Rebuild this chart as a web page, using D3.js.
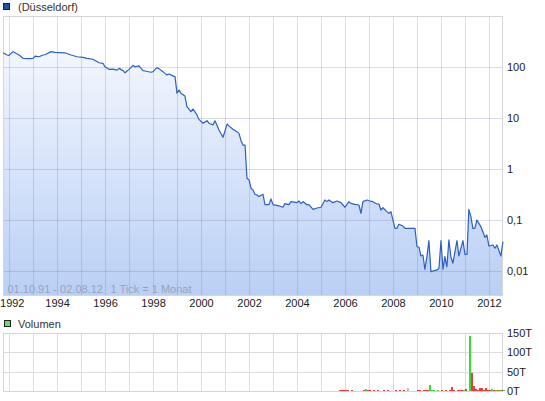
<!DOCTYPE html>
<html><head><meta charset="utf-8">
<script src="https://cdn.jsdelivr.net/npm/d3@7"></script>
<style>
body{margin:0;background:#fff}
svg{display:block;font-family:"Liberation Sans",Arial,sans-serif}
</style>
</head><body>
<svg id="c" width="545" height="401"></svg>
<script>
// ---------- DATA ----------
const seriesName = "(Düsseldorf)";
const volumeName = "Volumen";
const rangeText = "01.10.91 - 02.08.12";
const tickText = "1 Tick = 1 Monat";

const priceDates = ["1991-10","1991-12","1992-01","1992-03","1992-04","1992-06","1992-08","1992-11",
"1993-01","1993-02","1993-04","1993-06","1993-07","1993-10","1993-12","1994-05","1994-08","1994-11",
"1995-02","1995-04","1995-07","1995-10","1995-12","1996-01","1996-03","1996-05","1996-07","1996-08",
"1996-10","1996-11","1997-01","1997-03","1997-04","1997-06","1997-08","1997-09","1997-12","1998-01",
"1998-03","1998-04","1998-06","1998-07","1998-08","1998-09","1998-11","1998-12","1999-01","1999-02",
"1999-03","1999-05","1999-06","1999-08","1999-09","1999-11","1999-12","2000-02","2000-04","2000-05",
"2000-07","2000-08","2000-10","2000-12","2001-02","2001-03","2001-05","2001-07","2001-08","2001-09",
"2001-10","2001-11","2001-12","2002-01","2002-02","2002-03","2002-04","2002-05","2002-06","2002-08",
"2002-09","2002-11","2002-12","2003-01","2003-04","2003-06","2003-07","2003-09","2003-10","2004-01",
"2004-02","2004-03","2004-04","2004-06","2004-07","2004-09","2004-11","2005-01","2005-03","2005-04",
"2005-05","2005-07","2005-09","2005-11","2006-01","2006-03","2006-04","2006-06","2006-08","2006-09",
"2006-10","2006-12","2007-01","2007-03","2007-05","2007-06","2007-07","2007-08","2007-10","2007-11",
"2007-12","2008-02","2008-03","2008-04","2008-06","2008-07","2008-12","2009-01","2009-02","2009-03",
"2009-04","2009-05","2009-06","2009-07","2009-08","2009-11","2009-12","2010-01","2010-02","2010-03",
"2010-04","2010-05","2010-06","2010-07","2010-09","2010-10","2010-12","2011-01","2011-02","2011-03",
"2011-04","2011-05","2011-06","2011-07","2011-08","2011-09","2011-11","2011-12","2012-01","2012-03",
"2012-04","2012-05","2012-07","2012-08"];
const priceValues = [190,172,169,200,190,172,148,146,
148,164,159,172,174,200,194,190,172,159,
155,148,142,121,118,101,90,91,87,94,
85,77,90,108,101,105,85,83.5,79,81,
97,93,81,75,70,73,67,64.6,30.5,35.4,
30.5,27,16.7,13.3,15,11.5,9.4,7.9,8.85,7.9,
7.3,8.85,5.8,4.2,7.6,7.0,6.0,5.4,5.0,3.6,
2.95,2.95,0.66,0.61,0.42,0.39,0.32,0.31,0.29,0.32,
0.20,0.20,0.26,0.20,0.19,0.178,0.21,0.20,0.23,0.22,
0.236,0.21,0.23,0.20,0.20,0.162,0.172,0.178,0.247,0.229,
0.247,0.219,0.236,0.219,0.178,0.229,0.212,0.203,0.197,0.135,
0.229,0.247,0.239,0.229,0.206,0.206,0.157,0.174,0.146,0.135,
0.146,0.0687,0.0687,0.0824,0.0762,0.0687,0.0687,0.0299,0.0292,0.0197,
0.0206,0.0108,0.0191,0.0393,0.0097,0.0105,0.0113,0.0393,0.0108,0.0191,
0.0121,0.0406,0.0191,0.0142,0.0393,0.0197,0.0393,0.0212,0.0212,0.162,
0.116,0.0687,0.0687,0.100,0.0861,0.074,0.0458,0.0508,0.0309,0.0324,
0.0279,0.0324,0.0197,0.0376];

const yTickValues = [100,10,1,0.1,0.01];
const yTickLabels = ["100","10","1","0,1","0,01"];
const xTickYears = [1992,1994,1996,1998,2000,2002,2004,2006,2008,2010,2012];

// monthly volume (thousands), Oct 2005 .. Aug 2012
const volStart = "2005-10";
const volEnd = "2012-08";
const volValues = [1.5,1.5,1.5,2,1.5,1,3.5,1,0.5,1,1,0.5,1.5,5,1.5,1.5,1,1.5,1,1.5,0.5,1,1.5,1,1.5,1,0.5,
1,1.5,1,1.5,1,1.5,0.5,7,1,1,0.5,1,1.5,1.5,1,1.5,1.5,2,15,1.5,1.5,1,1.5,1,1.5,1,1.5,1,2,10,1.5,1,2,1.5,3,
1.5,4,1,142,47,13,4,3,7.5,7.5,3,7.5,2,2.5,5,2,1.5,1.5,2,1.5,2];
const volDirections = ["d","d","d","d","d","d","d","d","d","d","d","d","d","u","d","d","d","d","d","d","d","d","d","d","d","d","d",
"d","d","d","d","d","d","d","n","n","n","n","d","d","d","d","d","d","d","u","u","u","u","u","u","d","u","d","u","d","d","d","u","d","d","d",
"u","d","d","u","d","d","d","d","d","d","d","d","d","d","u","d","u","d","u","d","u"];
const volTickValues = [0,50,100,150];
const volTickLabels = ["0T","50T","100T","150T"];

// ---------- CHART ----------
const svg = d3.select("#c");
const parse = d3.timeParse("%Y-%m");
const price = priceDates.map((d,i)=>({date:parse(d), value:priceValues[i]}));
const volMonths = d3.timeMonth.range(parse(volStart), d3.timeMonth.offset(parse(volEnd),1));
const vol = volMonths.map((d,i)=>({date:d, value:volValues[i], dir:volDirections[i]}));

const L=3, R=503, T=16, B=296;
const VT=333, VB=391;
const x = d3.scaleTime().domain([new Date(1991,9,1), new Date(2012,7,2)]).range([L,R]);
const y = d3.scaleLog().domain([Math.pow(10,-2.49),1000]).range([B,T]);
const yv = d3.scaleLinear().domain([0,150]).range([VB,VT]);
const gridYears = d3.timeYear.range(new Date(1992,0,1), new Date(2012,1,1));
const FONT = "Liberation Sans, Arial, sans-serif";

const defs = svg.append("defs");
const grad = defs.append("linearGradient").attr("id","fillG")
  .attr("gradientUnits","userSpaceOnUse").attr("x1",0).attr("x2",0).attr("y1",T).attr("y2",B);
grad.append("stop").attr("offset",0).attr("stop-color","#fbfcff");
grad.append("stop").attr("offset",1).attr("stop-color","#b9cff5");

// area
svg.append("path").datum(price)
  .attr("fill","url(#fillG)")
  .attr("d", d3.area().x(d=>x(d.date)).y0(B).y1(d=>y(d.value)));

// grid main
const gridColor = "rgba(110,125,160,0.26)";
const gx = svg.append("g").attr("transform",`translate(0,${B})`)
  .call(d3.axisBottom(x).tickValues(gridYears).tickSize(-(B-T)).tickFormat(""));
gx.select(".domain").remove();
gx.selectAll("line").attr("stroke",gridColor).attr("shape-rendering","crispEdges");
const gy = svg.append("g").attr("transform",`translate(${L},0)`)
  .call(d3.axisRight(y).tickValues(yTickValues).tickSize(R-L).tickFormat(""));
gy.select(".domain").remove();
gy.selectAll("line").attr("stroke",gridColor).attr("shape-rendering","crispEdges");

svg.append("rect").attr("x",L+0.5).attr("y",T+0.5).attr("width",R-L-1).attr("height",B-T-1)
  .attr("fill","none").attr("stroke","#d6d6d6").attr("shape-rendering","crispEdges");

// line
svg.append("path").datum(price)
  .attr("fill","none").attr("stroke","#2b5fc6").attr("stroke-width",1.2)
  .attr("stroke-linejoin","round")
  .attr("d", d3.line().x(d=>x(d.date)).y(d=>y(d.value)));

// y axis labels
const ya = svg.append("g").attr("transform",`translate(${R},0)`)
  .call(d3.axisRight(y).tickValues(yTickValues).tickSize(0).tickPadding(4)
    .tickFormat((d,i)=>yTickLabels[i]));
ya.select(".domain").remove();
ya.selectAll("text").attr("font-size",11).attr("fill","#1a1a1a").attr("font-family",FONT);

// x axis labels
const xa = svg.append("g").attr("transform",`translate(0,${B})`)
  .call(d3.axisBottom(x).tickValues(xTickYears.map(yy=>new Date(yy,0,1))).tickSize(0).tickPadding(3)
    .tickFormat(d3.timeFormat("%Y")));
xa.select(".domain").remove();
xa.selectAll("text").attr("font-size",11).attr("fill","#1a1a1a").attr("font-family",FONT);
// keep the first label inside the page
xa.selectAll(".tick").each(function(){
  const t = d3.select(this).select("text");
  const tr = d3.select(this).attr("transform");
  const px = +tr.match(/translate\(([-\d.]+)/)[1];
  const w = t.node().getComputedTextLength();
  if (px - w/2 < 0) t.attr("text-anchor","start").attr("x", -px);
});

// info text
svg.append("text").attr("x",7.5).attr("y",293).attr("font-size",11).attr("fill","#97a3bb").text(rangeText);
svg.append("text").attr("x",110.5).attr("y",293).attr("font-size",11).attr("fill","#97a3bb").text(tickText);

// legend main
svg.append("rect").attr("x",3.5).attr("y",3.5).attr("width",6).attr("height",6)
  .attr("fill","#1f4fb0").attr("stroke","#222");
svg.append("text").attr("x",18).attr("y",10.5).attr("font-size",11).attr("fill","#333").text(seriesName);

// ---------- VOLUME ----------
svg.append("rect").attr("x",4.5).attr("y",320.5).attr("width",6).attr("height",6)
  .attr("fill","#66dd66").attr("stroke","#222");
svg.append("text").attr("x",18).attr("y",327.5).attr("font-size",11).attr("fill","#333").text(volumeName);

const vgx = svg.append("g").attr("transform",`translate(0,${VB})`)
  .call(d3.axisBottom(x).tickValues(gridYears).tickSize(-(VB-VT)).tickFormat(""));
vgx.select(".domain").remove();
vgx.selectAll("line").attr("stroke","#dcdcdc").attr("shape-rendering","crispEdges");
const vgy = svg.append("g").attr("transform",`translate(${L},0)`)
  .call(d3.axisRight(yv).tickValues(volTickValues).tickSize(R-L).tickFormat(""));
vgy.select(".domain").remove();
vgy.selectAll("line").attr("stroke","#dcdcdc").attr("shape-rendering","crispEdges");
svg.append("rect").attr("x",L+0.5).attr("y",VT+0.5).attr("width",R-L-1).attr("height",VB-VT)
  .attr("fill","none").attr("stroke","#d6d6d6").attr("shape-rendering","crispEdges");

const colorOf = {d:"#ee3b3b", u:"#33dd33", n:"#c0c0c0"};
svg.append("g").attr("shape-rendering","crispEdges").selectAll("rect").data(vol).join("rect")
  .attr("x",d=>Math.round(x(d.date)))
  .attr("width",1.6)
  .attr("y",d=>yv(d.value))
  .attr("height",d=>VB-yv(d.value))
  .attr("fill",d=>colorOf[d.dir]);

const va = svg.append("g").attr("transform",`translate(${R},0)`)
  .call(d3.axisRight(yv).tickValues(volTickValues).tickSize(0).tickPadding(4)
    .tickFormat((d,i)=>volTickLabels[i]));
va.select(".domain").remove();
va.selectAll("text").attr("font-size",11).attr("fill","#1a1a1a").attr("font-family",FONT);
</script>
</body></html>
